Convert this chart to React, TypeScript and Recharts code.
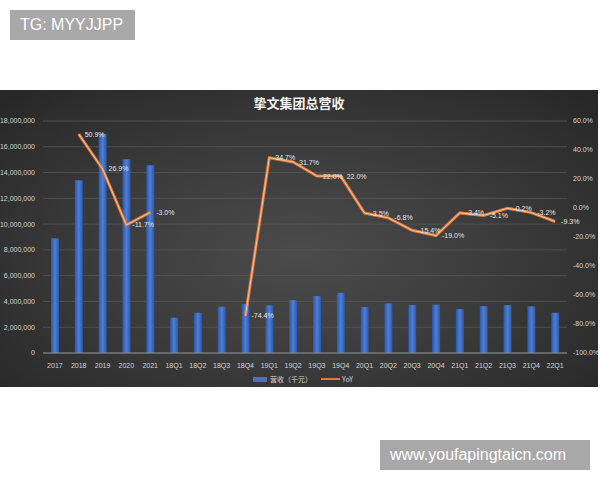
import React from "react";
import {
  Bar,
  CartesianGrid,
  ComposedChart,
  LabelList,
  Line,
  XAxis,
  YAxis,
} from "recharts";

const categories = [
  "2017", "2018", "2019", "2020", "2021",
  "18Q1", "18Q2", "18Q3", "18Q4",
  "19Q1", "19Q2", "19Q3", "19Q4",
  "20Q1", "20Q2", "20Q3", "20Q4",
  "21Q1", "21Q2", "21Q3", "21Q4",
  "22Q1",
];

// 营收（千元）
const revenue = [
  8900000, 13400000, 17000000, 15040000, 14570000,
  2740000, 3120000, 3590000, 3800000,
  3700000, 4100000, 4420000, 4670000,
  3570000, 3850000, 3720000, 3750000,
  3410000, 3640000, 3720000, 3620000,
  3120000,
];

// YoY (%)
const yoy = [
  null, 50.9, 26.9, -11.7, -3.0,
  null, null, null, -74.4,
  34.7, 31.7, 22.0, 22.0,
  -3.5, -6.8, -15.4, -19.0,
  -3.4, -5.1, -0.2, -3.2,
  -9.3,
];

const leftTicks = [0, 2000000, 4000000, 6000000, 8000000, 10000000, 12000000, 14000000, 16000000, 18000000];
const rightTicks = [-100, -80, -60, -40, -20, 0, 20, 40, 60];

const data = categories.map((name, i) => ({
  name,
  revenue: revenue[i],
  yoy: yoy[i],
}));

const tickStyle = { fill: "#d4d4d4", fontSize: 7, fontFamily: "Liberation Sans, Arial, sans-serif" };

const YoyLabel = (props: any) => {
  const { x, y, value } = props;
  if (value === null || value === undefined) return null;
  return (
    <text
      x={x + 6}
      y={y}
      dy={2.5}
      fill="#e6e6e6"
      fontSize={7}
      fontFamily="Liberation Sans, Arial, sans-serif"
    >
      {value.toFixed(1) + "%"}
    </text>
  );
};

export default function App() {
  return (
    <div style={{ position: "absolute", left: 0, top: 0, width: 600, height: 480, background: "#fff" }}>
      <div
        style={{
          position: "absolute",
          left: 10,
          top: 10,
          width: 125,
          height: 30,
          background: "#a8a8a8",
          color: "#fff",
          fontFamily: "Liberation Sans, Arial, sans-serif",
          fontSize: 16,
          lineHeight: "30px",
          paddingLeft: 10,
          boxSizing: "border-box",
        }}
      >
        TG: MYYJJPP
      </div>

      <div
        style={{
          position: "absolute",
          left: 0,
          top: 90,
          width: 598,
          height: 297,
          background: "radial-gradient(ellipse at 50% 55%, #4b4b4b 0%, #3c3c3c 45%, #262626 100%)",
        }}
      >
        <div
          style={{
            position: "absolute",
            left: 0,
            width: 598,
            top: 3,
            textAlign: "center",
            color: "#f2f2f2",
            fontSize: 13,
            fontWeight: "bold",
            fontFamily: "Noto Sans CJK SC, sans-serif",
          }}
        >
          挚文集团总营收
        </div>

        <ComposedChart
          width={598}
          height={297}
          data={data}
          margin={{ top: 31, right: 0, bottom: 0, left: 0 }}
          barCategoryGap={0}
        >
          <defs>
            <linearGradient id="barFill" x1="0" y1="0" x2="1" y2="0">
              <stop offset="0%" stopColor="#2c57a6" />
              <stop offset="50%" stopColor="#4d7fd8" />
              <stop offset="100%" stopColor="#2c57a6" />
            </linearGradient>
          </defs>
          <CartesianGrid yAxisId="left" vertical={false} stroke="#585858" strokeWidth={0.8} />
          <XAxis
            dataKey="name"
            tick={tickStyle}
            tickLine={false}
            axisLine={{ stroke: "#8c8c8c", strokeWidth: 1.2 }}
            interval={0}
            height={34}
            tickMargin={4}
          />
          <YAxis
            yAxisId="left"
            domain={[0, 18000000]}
            ticks={leftTicks}
            tick={tickStyle}
            tickLine={false}
            axisLine={false}
            width={43}
            tickFormatter={(v: number) => v.toLocaleString("en-US")}
          />
          <YAxis
            yAxisId="right"
            orientation="right"
            domain={[-100, 60]}
            ticks={rightTicks}
            tick={tickStyle}
            tickLine={false}
            axisLine={false}
            width={31}
            tickMargin={0}
            tickFormatter={(v: number) => v.toFixed(1) + "%"}
          />
          <Bar
            yAxisId="left"
            dataKey="revenue"
            barSize={8}
            fill="url(#barFill)"
            isAnimationActive={false}
          />
          <Line
            yAxisId="right"
            dataKey="yoy"
            stroke="#e07a3c"
            strokeWidth={3}
            dot={false}
            activeDot={false}
            connectNulls={false}
            type="linear"
            isAnimationActive={false}
          />
          <Line
            yAxisId="right"
            dataKey="yoy"
            stroke="#f6c3a0"
            strokeWidth={1}
            dot={false}
            activeDot={false}
            connectNulls={false}
            type="linear"
            isAnimationActive={false}
          >
            <LabelList dataKey="yoy" content={<YoyLabel />} />
          </Line>
        </ComposedChart>

        <div
          style={{
            position: "absolute",
            left: 253,
            top: 284,
            display: "flex",
            alignItems: "center",
            color: "#d4d4d4",
            fontSize: 7,
            fontFamily: "Noto Sans CJK SC, sans-serif",
          }}
        >
          <span style={{ display: "inline-block", width: 14, height: 5, background: "#4472c4", marginRight: 3 }} />
          <span>营收（千元）</span>
          <span style={{ display: "inline-block", width: 19, height: 2, background: "#e07a3c", marginLeft: 9, marginRight: 2 }} />
          <span>YoY</span>
        </div>
      </div>

      <div
        style={{
          position: "absolute",
          left: 380,
          top: 440,
          width: 210,
          height: 30,
          background: "#a8a8a8",
          color: "#fff",
          fontFamily: "Liberation Sans, Arial, sans-serif",
          fontSize: 16,
          lineHeight: "30px",
          paddingLeft: 10,
          boxSizing: "border-box",
        }}
      >
        www.youfapingtaicn.com
      </div>
    </div>
  );
}
